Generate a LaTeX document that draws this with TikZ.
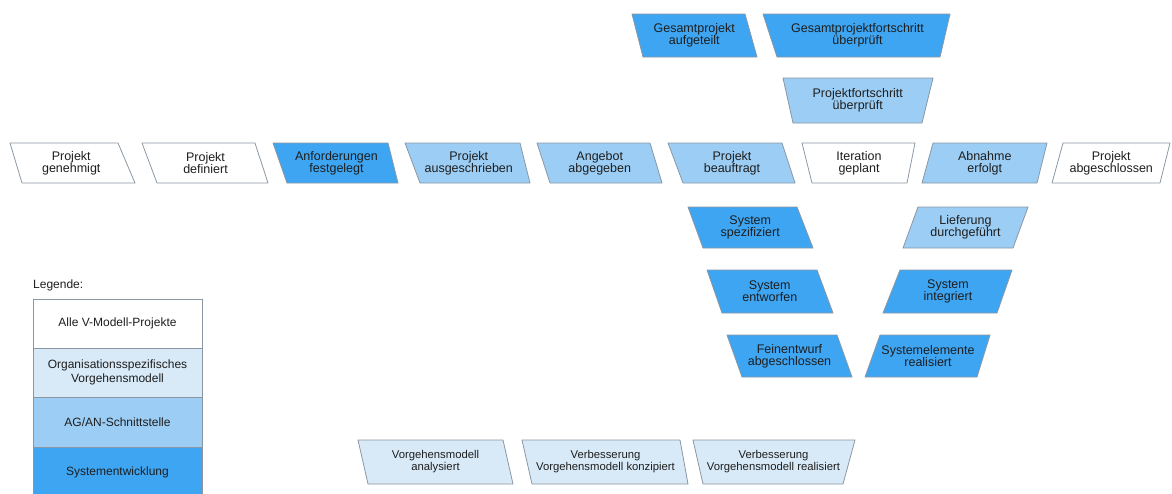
\documentclass[tikz,border=0pt]{standalone}
\usepackage{fontspec}
\setmainfont{Liberation Sans}
\usetikzlibrary{calc}
\definecolor{sysdev}{HTML}{3DA5F2}
\definecolor{agan}{HTML}{9CCEF5}
\definecolor{orgvm}{HTML}{D8EAF8}
\definecolor{allvm}{HTML}{FFFFFF}
\definecolor{edge}{HTML}{8A97A3}
\definecolor{ink}{HTML}{1E1E1E}

% milestone: name, fill, x of top-left, top-right, bottom-right, bottom-left, y top, y bottom, label
\newcommand{\milestone}[9]{%
  \filldraw[msbox, fill=#2] (#3,#7) -- (#4,#7) -- (#5,#8) -- (#6,#8) -- cycle;
  \node[mstext] (#1) at ({(#3+#4+#5+#6)/4},{(#7+#8)/2}) {#9};
}

\begin{document}
\begin{tikzpicture}[x=1pt, y=-1pt,
  msbox/.style={draw=edge, line width=0.8pt, line join=round},
  mstext/.style={text=ink, align=center, inner sep=0pt,
    font=\fontsize{12.5}{12}\selectfont},
  legrow/.style={draw=edge, line width=0.8pt},
  legtext/.style={text=ink, align=center, inner sep=0pt,
    font=\fontsize{12}{14}\selectfont}]
\useasboundingbox (0,0) rectangle (1172,493);
\clip (0,0) rectangle (1172,493);

% upper decision points
\milestone{gpa}{sysdev}{632}{745}{757}{643}{14}{57}{Gesamtprojekt\\aufgeteilt}
\milestone{gpf}{sysdev}{763}{950}{940}{777}{14}{57}{Gesamtprojektfortschritt\\überprüft}
\milestone{pfu}{agan}{783}{933}{922}{793}{78}{123}{Projektfortschritt\\überprüft}

% main row
\milestone{pg}{allvm}{10}{118}{135}{22}{143}{183}{Projekt\\genehmigt}
\milestone{pd}{allvm}{142}{255}{268}{157}{143}{183}{Projekt\\definiert}
\milestone{af}{sysdev}{273}{388}{398}{287}{143}{183}{Anforderungen\\festgelegt}
\milestone{pa}{agan}{405}{520}{530}{420}{143}{183}{Projekt\\ausgeschrieben}
\milestone{aa}{agan}{537}{650}{662}{550}{143}{183}{Angebot\\abgegeben}
\milestone{pb}{agan}{668}{782}{795}{683}{143}{183}{Projekt\\beauftragt}
\milestone{ig}{allvm}{802}{915}{907}{812}{143}{183}{Iteration\\geplant}
\milestone{ae}{agan}{933}{1047}{1037}{922}{143}{183}{Abnahme\\erfolgt}
\milestone{pab}{allvm}{1063}{1170}{1160}{1052}{143}{183}{Projekt\\abgeschlossen}

% descending branch
\milestone{ss}{sysdev}{688}{797}{813}{703}{207}{248}{System\\spezifiziert}
\milestone{se}{sysdev}{707}{817}{833}{722}{270}{313}{System\\entworfen}
\milestone{fa}{sysdev}{727}{837}{852}{742}{335}{377}{Feinentwurf\\abgeschlossen}

% ascending branch
\milestone{ld}{agan}{918}{1028}{1013}{903}{207}{248}{Lieferung\\durchgeführt}
\milestone{si}{sysdev}{900}{1012}{997}{883}{270}{313}{System\\integriert}
\milestone{sr}{sysdev}{880}{990}{977}{865}{335}{377}{Systemelemente\\realisiert}

% process improvement row, set a little smaller
\begin{scope}[mstext/.append style={font=\fontsize{11.3}{12}\selectfont}]
\milestone{va}{orgvm}{358}{503}{513}{368}{440}{484}{Vorgehensmodell\\analysiert}
\milestone{vk}{orgvm}{522}{680}{688}{532}{440}{484}{Verbesserung\\Vorgehensmodell konzipiert}
\milestone{vr}{orgvm}{693}{855}{843}{703}{440}{484}{Verbesserung\\Vorgehensmodell realisiert}
\end{scope}

% legend
\node[legtext, anchor=west] (legtitle) at (33,285) {Legende:};
\filldraw[legrow, fill=allvm]  (33,299) rectangle (202,348);
\node[legtext] (lg1) at (117.5,323.5) {Alle V-Modell-Projekte};
\filldraw[legrow, fill=orgvm]  (33,348) rectangle (202,397);
\node[legtext] (lg2) at (117.5,372.5) {Organisationsspezifisches\\Vorgehensmodell};
\filldraw[legrow, fill=agan]   (33,397) rectangle (202,447);
\node[legtext] (lg3) at (117.5,422) {AG/AN-Schnittstelle};
\filldraw[legrow, fill=sysdev] (33,447) rectangle (202,500);
\node[legtext] (lg4) at (117.5,472) {Systementwicklung};
\end{tikzpicture}
\end{document}
